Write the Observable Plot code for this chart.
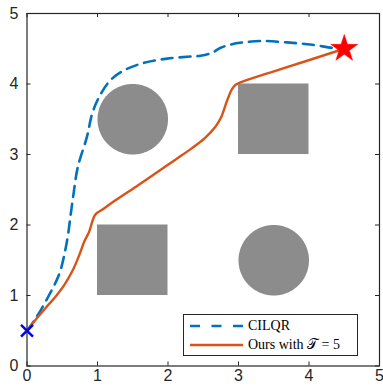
<!DOCTYPE html>
<html>
<head>
<meta charset="utf-8">
<script src="https://cdn.jsdelivr.net/npm/d3@7"></script>
<script src="https://cdn.jsdelivr.net/npm/@observablehq/plot@0.6"></script>
<style>
  html, body { margin: 0; padding: 0; background: white; }
  #wrap { position: relative; width: 383px; height: 387px; }
  #legend {
    position: absolute; left: 183px; top: 314px; width: 175px; height: 42px;
    border: 1px solid #262626; background: white; box-sizing: border-box;
    font-family: "Liberation Serif", "DejaVu Serif", serif; font-size: 14px; color: #000;
  }
  .row { position: absolute; left: 0; height: 18px; display: flex; align-items: center; }
  .row svg { margin-left: 6px; margin-right: 5px; }
</style>
</head>
<body>
<div id="wrap"></div>
<script>
// ---- data ----
const ticks = [0, 1, 2, 3, 4, 5];

const cilqrX = [0, 0.1, 0.2, 0.31, 0.39, 0.47, 0.53, 0.58, 0.62, 0.66, 0.72, 0.85, 0.925, 1.02, 1.18, 1.37, 1.66, 1.99, 2.32, 2.46, 2.62, 2.74, 2.89, 3.07, 3.35, 3.69, 4.02, 4.35, 4.5];
const cilqrY = [0.5, 0.64, 0.8, 1.0, 1.15, 1.34, 1.58, 1.85, 2.15, 2.44, 2.82, 3.25, 3.58, 3.81, 4.05, 4.19, 4.30, 4.36, 4.39, 4.40, 4.44, 4.51, 4.56, 4.59, 4.61, 4.59, 4.56, 4.51, 4.5];

const oursX = [0, 0.125, 0.27, 0.41, 0.53, 0.645, 0.74, 0.81, 0.88, 0.93, 0.97, 1.07, 1.255, 1.54, 1.82, 2.11, 2.34, 2.53, 2.67, 2.75, 2.84, 2.91, 2.96, 3.02, 3.31, 3.6, 4.5];
const oursY = [0.5, 0.66, 0.83, 0.99, 1.15, 1.35, 1.57, 1.76, 1.90, 2.06, 2.15, 2.22, 2.35, 2.54, 2.73, 2.93, 3.09, 3.24, 3.39, 3.52, 3.77, 3.93, 3.99, 4.02, 4.12, 4.21, 4.5];

// obstacles
const circleCX = [1.5, 3.5];
const circleCY = [3.5, 1.5];
const circleR = [0.5, 0.5];
const squareX1 = [3, 1];
const squareX2 = [4, 2];
const squareY1 = [3, 1];
const squareY2 = [4, 2];

const startPt = [{x: 0, y: 0.5}];
const goalPt = [{x: 4.5, y: 4.5}];

const seriesNames = ["CILQR", "Ours with \u{1D4AF} = 5"];

// ---- build tables ----
const cilqr = cilqrX.map((x, i) => ({x, y: cilqrY[i]}));
const ours = oursX.map((x, i) => ({x, y: oursY[i]}));
const circles = [];
circleCX.forEach((cx, k) => {
  const n = 180;
  for (let i = 0; i <= n; i++) {
    const a = 2 * Math.PI * i / n;
    circles.push({k, x: cx + circleR[k] * Math.cos(a), y: circleCY[k] + circleR[k] * Math.sin(a)});
  }
});
const squares = squareX1.map((x1, i) => ({x1, x2: squareX2[i], y1: squareY1[i], y2: squareY2[i]}));

const gray = "#8c8c8c";
const blue = "#0072BD";
const orange = "#D95319";
const axisColor = "#262626";

const chart = Plot.plot({
  width: 383,
  height: 387,
  marginLeft: 26.5,
  marginRight: 4,
  marginTop: 13,
  marginBottom: 21.5,
  x: {domain: [0, 5]},
  y: {domain: [0, 5]},
  style: {fontFamily: "'Liberation Sans', Arial, sans-serif", fontSize: "16px", color: axisColor, background: "white"},
  marks: [
    Plot.rect(squares, {x1: "x1", x2: "x2", y1: "y1", y2: "y2", fill: gray}),
    Plot.line(circles, {x: "x", y: "y", z: "k", fill: gray, stroke: "none"}),
    Plot.line(cilqr, {x: "x", y: "y", stroke: blue, strokeWidth: 2.6, strokeDasharray: "11,7", curve: "catmull-rom"}),
    Plot.line(ours, {x: "x", y: "y", stroke: orange, strokeWidth: 2.4, curve: "catmull-rom"}),
    Plot.dot(startPt, {x: "x", y: "y", symbol: "times", r: 5.5, stroke: "#0000ff", strokeWidth: 2.5}),
    Plot.dot(goalPt, {x: "x", y: "y", symbol: "star", r: 8.5, fill: "#ff0000", stroke: "#ff0000", strokeWidth: 0.5}),
    Plot.axisX(ticks, {anchor: "bottom", tickSize: 0, tickPadding: 4, tickFormat: "d", stroke: axisColor, fill: axisColor}),
    Plot.axisY(ticks, {anchor: "left", tickSize: 0, tickPadding: 8.5, tickFormat: "d", stroke: axisColor, fill: axisColor}),
    Plot.ruleX(ticks, {x: d => d, y1: 0, y2: 0, insetTop: -4, stroke: axisColor}),
    Plot.ruleX(ticks, {x: d => d, y1: 5, y2: 5, insetBottom: -4, stroke: axisColor}),
    Plot.ruleY(ticks, {y: d => d, x1: 0, x2: 0, insetRight: -4, stroke: axisColor}),
    Plot.ruleY(ticks, {y: d => d, x1: 5, x2: 5, insetLeft: -4, stroke: axisColor}),
    Plot.frame({stroke: axisColor, strokeWidth: 1.2})
  ]
});

const wrap = document.getElementById("wrap");
wrap.appendChild(chart);

// legend overlay
const legend = document.createElement("div");
legend.id = "legend";
const rows = [
  {name: seriesNames[0], color: blue, dash: "10,11.5", top: 2},
  {name: seriesNames[1], color: orange, dash: null, top: 21}
];
rows.forEach(r => {
  const row = document.createElement("div");
  row.className = "row";
  row.style.top = r.top + "px";
  const svg = d3.create("svg").attr("width", 53).attr("height", 18);
  svg.append("line").attr("x1", 0).attr("x2", 53).attr("y1", 9).attr("y2", 9)
    .attr("stroke", r.color).attr("stroke-width", 2.5)
    .attr("stroke-dasharray", r.dash);
  row.appendChild(svg.node());
  const span = document.createElement("span");
  span.textContent = r.name;
  row.appendChild(span);
  legend.appendChild(row);
});
wrap.appendChild(legend);
</script>
</body>
</html>
